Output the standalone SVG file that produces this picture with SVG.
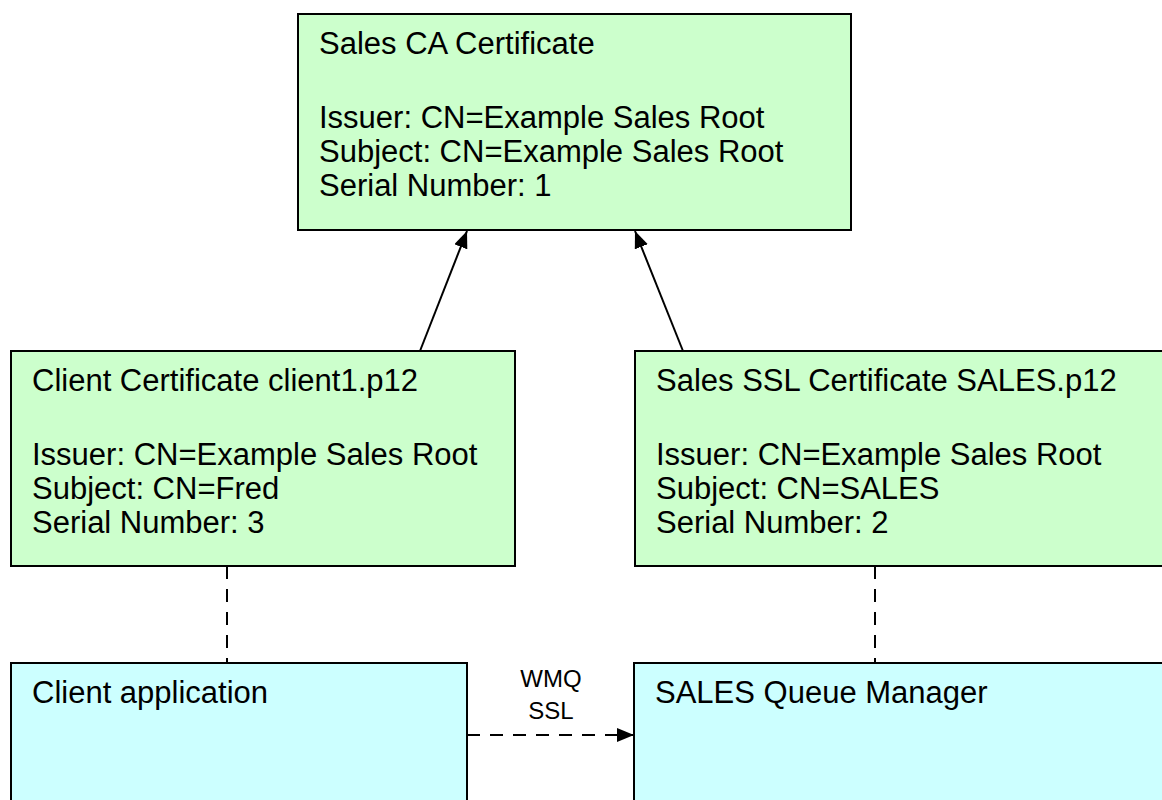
<svg xmlns="http://www.w3.org/2000/svg" width="1162" height="800" viewBox="0 0 1162 800">
  <style>
    .cert { fill: #CCFFCC; stroke: #000; stroke-width: 2; }
    .app { fill: #CCFFFF; stroke: #000; stroke-width: 2; }
    text { font-family: "Liberation Sans", Arial, sans-serif; font-size: 31px; fill: #000; }
    .small { font-size: 24px; text-anchor: middle; }
    .solid { stroke: #000; stroke-width: 2; fill: none; }
    .dash { stroke: #000; stroke-width: 2; fill: none; stroke-dasharray: 13 10; }
  </style>
  <defs>
    <marker id="arrow" viewBox="0 0 17 14" refX="17" refY="7" markerWidth="17" markerHeight="14" markerUnits="userSpaceOnUse" orient="auto">
      <path d="M0,0 L17,7 L0,14 Z" fill="#000"/>
    </marker>
  </defs>
  <rect width="1162" height="800" fill="#fff"/>

  <!-- connectors -->
  <g id="connectors">
    <line class="solid" x1="420" y1="351" x2="467" y2="231" marker-end="url(#arrow)"/>
    <line class="solid" x1="683" y1="351" x2="635" y2="231" marker-end="url(#arrow)"/>
    <line class="dash" x1="227" y1="566" x2="227" y2="663"/>
    <line class="dash" x1="875" y1="566" x2="875" y2="663"/>
    <line class="dash" x1="467" y1="735" x2="634" y2="735" marker-end="url(#arrow)"/>
    <text class="small" x="551" y="687">WMQ</text>
    <text class="small" x="551" y="719">SSL</text>
  </g>

  <g id="ca-cert">
    <rect class="cert" x="298" y="14" width="553" height="216"/>
    <text x="319" y="54">Sales CA Certificate</text>
    <text x="319" y="128">Issuer: CN=Example Sales Root</text>
    <text x="319" y="162">Subject: CN=Example Sales Root</text>
    <text x="319" y="196">Serial Number: 1</text>
  </g>

  <g id="client-cert">
    <rect class="cert" x="11" y="351" width="504" height="215"/>
    <text x="32" y="391">Client Certificate client1.p12</text>
    <text x="32" y="465">Issuer: CN=Example Sales Root</text>
    <text x="32" y="499">Subject: CN=Fred</text>
    <text x="32" y="533">Serial Number: 3</text>
  </g>

  <g id="sales-cert">
    <rect class="cert" x="635" y="351" width="540" height="215"/>
    <text x="656" y="391">Sales SSL Certificate SALES.p12</text>
    <text x="656" y="465">Issuer: CN=Example Sales Root</text>
    <text x="656" y="499">Subject: CN=SALES</text>
    <text x="656" y="533">Serial Number: 2</text>
  </g>

  <g id="client-app">
    <rect class="app" x="11" y="663" width="456" height="150"/>
    <text x="32" y="703">Client application</text>
  </g>

  <g id="sales-qm">
    <rect class="app" x="634" y="663" width="540" height="150"/>
    <text x="655" y="703">SALES Queue Manager</text>
  </g>
</svg>
